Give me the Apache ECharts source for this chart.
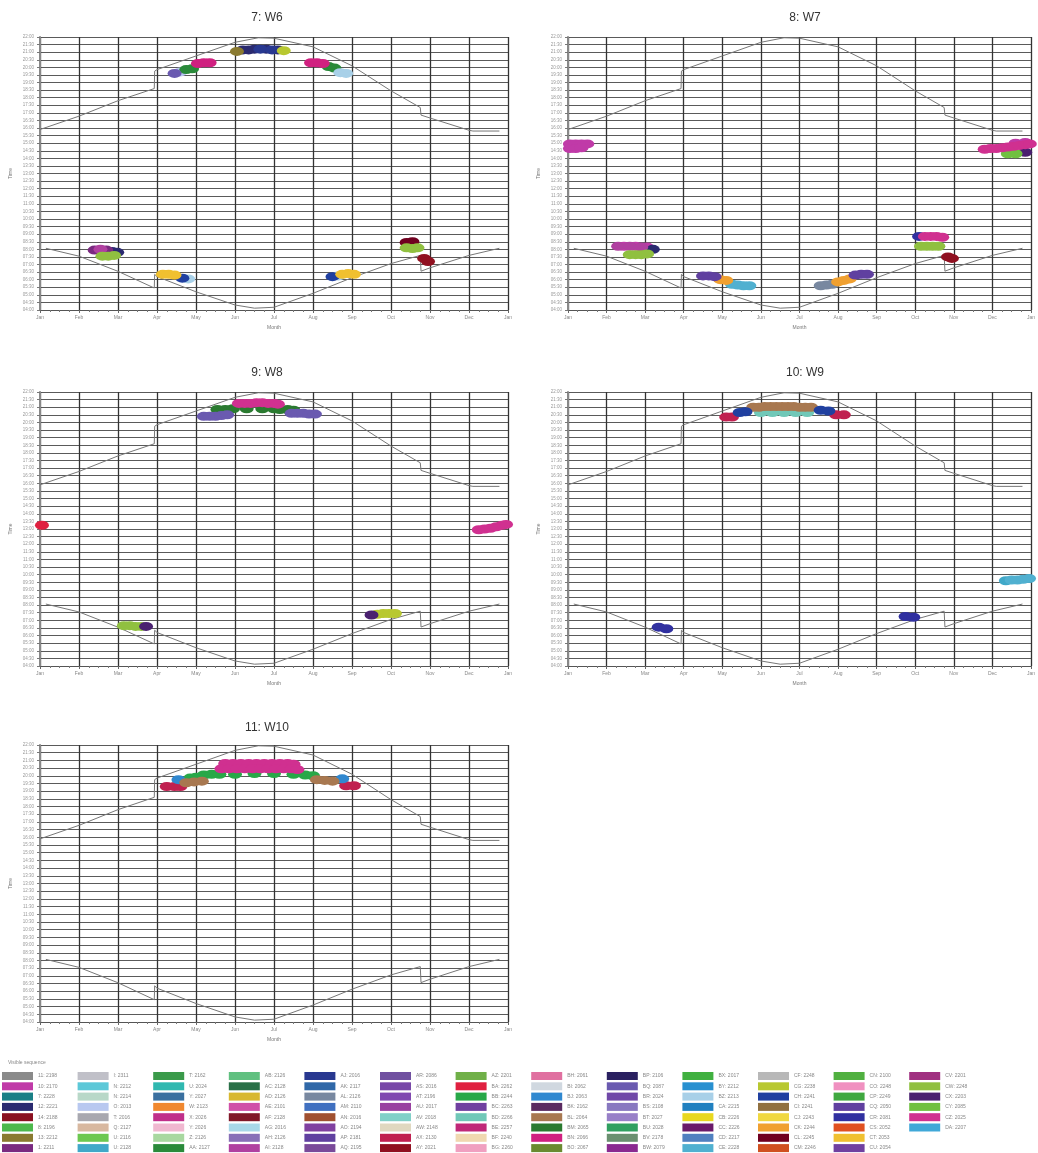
<!DOCTYPE html>
<html>
<head>
<meta charset="utf-8">
<script src="https://cdn.jsdelivr.net/npm/echarts@6/dist/echarts.min.js"></script>
<style>
  html, body { margin: 0; padding: 0; background: #fff; }
  #main { width: 1038px; height: 1153px; }
</style>
</head>
<body>
<div id="main"></div>
<script>
  const panelTitles = ['7: W6', '8: W7', '9: W8', '10: W9', '11: W10'];
  const monthLabels = ['Jan', 'Feb', 'Mar', 'Apr', 'May', 'Jun', 'Jul', 'Aug', 'Sep', 'Oct', 'Nov', 'Dec', 'Jan'];

  // sunset / sunrise, [month, hour]
  const sunset = [[0, 15.9], [1, 16.78], [2, 17.8], [2.93, 18.6], [2.94, 19.75], [3, 19.85], [4, 20.75],
    [5, 21.65], [5.6, 21.95], [6, 21.92], [7, 21.35], [8, 20.1], [9, 18.45], [9.75, 17.35], [9.77, 16.85],
    [10, 16.66], [11, 15.85], [11.1, 15.8], [11.78, 15.8]];
  const sunrise = [[0.15, 8.07], [1, 7.55], [2, 6.55], [2.93, 5.45], [2.94, 6.35], [3, 6.2], [4, 5.2],
    [5, 4.33], [5.5, 4.12], [6, 4.18], [7, 5.1], [8, 6.13], [9, 7.06], [9.75, 7.6], [9.77, 6.56],
    [10, 6.78], [11, 7.6], [11.78, 8.07]];

  const seqNames = [
    '11: 2198', '10: 2170', '7: 2228', '12: 2221', '14: 2188', '8: 2196', '13: 2212', '1: 2211',
    'I: 2311', 'N: 2212', 'N: 2214', 'O: 2013', 'T: 2016', 'Q: 2127', 'U: 2116', 'U: 2128',
    'T: 2162', 'U: 2024', 'Y: 2027', 'W: 2123', 'X: 2026', 'Y: 2026', 'Z: 2126', 'AA: 2127',
    'AB: 2126', 'AC: 2128', 'AD: 2126', 'AE: 2101', 'AF: 2128', 'AG: 2016', 'AH: 2126', 'AI: 2128',
    'AJ: 2016', 'AK: 2117', 'AL: 2126', 'AM: 2110', 'AN: 2016', 'AO: 2194', 'AP: 2181', 'AQ: 2195',
    'AR: 2086', 'AS: 2016', 'AT: 2196', 'AU: 2017', 'AV: 2018', 'AW: 2148', 'AX: 2130', 'AY: 2021',
    'AZ: 2201', 'BA: 2262', 'BB: 2244', 'BC: 2263', 'BD: 2266', 'BE: 2257', 'BF: 2240', 'BG: 2260',
    'BH: 2061', 'BI: 2062', 'BJ: 2063', 'BK: 2162', 'BL: 2064', 'BM: 2065', 'BN: 2066', 'BO: 2067',
    'BP: 2106', 'BQ: 2087', 'BR: 2024', 'BS: 2108', 'BT: 2027', 'BU: 2028', 'BV: 2178', 'BW: 2079',
    'BX: 2017', 'BY: 2212', 'BZ: 2213', 'CA: 2215', 'CB: 2226', 'CC: 2226', 'CD: 2217', 'CE: 2228',
    'CF: 2248', 'CG: 2238', 'CH: 2241', 'CI: 2241', 'CJ: 2243', 'CK: 2244', 'CL: 2245', 'CM: 2246',
    'CN: 2100', 'CO: 2248', 'CP: 2249', 'CQ: 2050', 'CR: 2081', 'CS: 2052', 'CT: 2053', 'CU: 2054',
    'CV: 2201', 'CW: 2248', 'CX: 2203', 'CY: 2085', 'CZ: 2025', 'DA: 2207'
  ];
  const seqColors = [
    '#8a8a8a', '#c03aa8', '#1a7f86', '#2a2a70', '#8a1020', '#4cb84c', '#8a7a30', '#7a2a80',
    '#c0c0c8', '#5cc8d8', '#b8d8c8', '#b8c8f0', '#a8a8b0', '#d8b8a0', '#6cc850', '#40a8c8',
    '#3a9a4a', '#30b8b0', '#3a70a0', '#f08830', '#c0308a', '#f0b8d0', '#a8d8a0', '#2a8a3a',
    '#60c080', '#2a7048', '#d8b830', '#d050a8', '#801828', '#a8d8e8', '#8870b8', '#b040a0',
    '#283890', '#3068a8', '#7888a0', '#4070c0', '#a05030', '#8040a0', '#6040a0', '#7a4a9a',
    '#7050a0', '#7848a8', '#8048b0', '#9840a0', '#80d0c8', '#e0d8c0', '#c02050', '#901020',
    '#70b048', '#e02040', '#28a848', '#7040a0', '#70c8b8', '#c02878', '#f0d8b0', '#f0a0c0',
    '#e070a0', '#d0d8e0', '#3088d0', '#5a2a60', '#a87850', '#2a7a30', '#d02080', '#6a8a30',
    '#2a2060', '#6a5ab0', '#7048a8', '#8878c0', '#9880c8', '#30a060', '#6a9070', '#8a2a90',
    '#40b040', '#2890d0', '#a8d0e8', '#2080c0', '#e8d820', '#6a1a6a', '#5080c0', '#50b0d0',
    '#b8b8b8', '#b8c830', '#2040a0', '#907040', '#f0d840', '#f0a030', '#700020', '#d05020',
    '#50b040', '#f090c0', '#40a840', '#6040a0', '#3030a0', '#e05020', '#f0c030', '#7040a0',
    '#a03080', '#90c040', '#4a2070', '#70c040', '#d03090', '#40a8d8'
  ];

  // observations per panel: [month, hour, sequence index]
  const pointsW6 = [
    [5.05, 21.05, 6], [5.2, 21.15, 3], [5.35, 21.15, 3], [5.5, 21.2, 3], [5.65, 21.2, 32], [5.8, 21.2, 3],
    [5.95, 21.15, 32], [6.1, 21.15, 3], [6.25, 21.1, 81],
    [3.45, 19.6, 65], [3.6, 19.7, 11], [3.75, 19.85, 23], [3.9, 19.9, 23], [4.05, 20.25, 62], [4.2, 20.3, 62],
    [4.35, 20.3, 62],
    [6.95, 20.3, 62], [7.1, 20.3, 62], [7.25, 20.25, 62], [7.4, 20.05, 23], [7.55, 19.95, 23], [7.7, 19.65, 74],
    [7.85, 19.6, 74],
    [1.4, 7.95, 7], [1.55, 8.0, 31], [1.7, 7.95, 7], [1.85, 7.85, 3], [1.98, 7.8, 3],
    [1.6, 7.55, 97], [1.75, 7.55, 97], [1.9, 7.6, 97],
    [3.15, 6.35, 94], [3.3, 6.35, 94], [3.45, 6.3, 94], [3.65, 6.1, 82], [3.8, 6.05, 74],
    [7.5, 6.2, 82], [7.65, 6.25, 74], [7.75, 6.35, 94], [7.9, 6.4, 94], [8.05, 6.35, 94],
    [9.4, 8.45, 86], [9.55, 8.5, 86], [9.4, 8.1, 97], [9.55, 8.05, 97], [9.68, 8.1, 97],
    [9.85, 7.4, 47], [9.95, 7.2, 47]
  ];
  const pointsW7 = [
    [0.05, 14.95, 1], [0.2, 14.95, 1], [0.35, 14.95, 1], [0.5, 14.95, 1], [0.05, 14.65, 1], [0.2, 14.65, 1],
    [0.35, 14.7, 1],
    [11.4, 14.3, 99], [11.6, 14.3, 99], [11.85, 14.4, 98],
    [10.8, 14.6, 100], [10.95, 14.65, 100], [11.1, 14.65, 100], [11.25, 14.7, 100], [11.4, 14.75, 100],
    [11.55, 14.8, 100], [11.7, 14.85, 100], [11.85, 14.9, 100], [11.97, 14.95, 100], [11.6, 15.0, 1],
    [11.85, 15.05, 1],
    [1.3, 8.2, 31], [1.45, 8.2, 1], [1.6, 8.2, 31], [1.75, 8.2, 1], [1.9, 8.15, 31], [2.05, 8.15, 1],
    [2.2, 8.0, 3], [1.6, 7.65, 97], [1.75, 7.65, 97], [1.9, 7.65, 97], [2.05, 7.7, 97],
    [3.5, 6.25, 91], [3.65, 6.25, 91], [3.8, 6.2, 91], [3.95, 6.0, 85], [4.1, 5.95, 85], [4.25, 5.7, 79],
    [4.4, 5.65, 79], [4.55, 5.6, 79], [4.7, 5.6, 79],
    [6.55, 5.6, 34], [6.7, 5.65, 34], [6.85, 5.7, 34], [7.0, 5.85, 85], [7.15, 5.95, 85], [7.3, 6.05, 85],
    [7.45, 6.3, 91], [7.6, 6.35, 91], [7.75, 6.35, 91],
    [9.15, 8.2, 97], [9.3, 8.2, 97], [9.45, 8.2, 97], [9.6, 8.2, 97],
    [9.1, 8.85, 92], [9.25, 8.85, 100], [9.4, 8.85, 100], [9.55, 8.85, 100], [9.7, 8.8, 100],
    [9.85, 7.5, 47], [9.95, 7.4, 47]
  ];
  const pointsW8 = [
    [4.55, 20.85, 61], [4.75, 20.85, 61], [4.95, 20.9, 61], [5.3, 20.9, 61], [5.7, 20.9, 61], [6.0, 20.9, 61],
    [6.15, 20.85, 61], [6.35, 20.85, 61], [6.5, 20.8, 61],
    [4.2, 20.4, 65], [4.35, 20.4, 65], [4.5, 20.4, 65], [4.65, 20.45, 65], [4.8, 20.5, 65],
    [6.45, 20.6, 65], [6.6, 20.6, 65], [6.75, 20.6, 65], [6.9, 20.55, 65], [7.05, 20.55, 65],
    [5.1, 21.25, 100], [5.25, 21.25, 100], [5.4, 21.25, 100], [5.55, 21.3, 100], [5.7, 21.3, 100],
    [5.85, 21.25, 100], [6.0, 21.25, 100], [6.1, 21.2, 100],
    [0.05, 13.25, 49],
    [11.25, 12.95, 100], [11.4, 13.0, 100], [11.55, 13.05, 100], [11.7, 13.15, 100], [11.85, 13.25, 100],
    [11.95, 13.3, 100],
    [2.15, 6.65, 97], [2.3, 6.65, 97], [2.45, 6.6, 97], [2.6, 6.6, 97], [2.72, 6.6, 98],
    [8.5, 7.35, 98], [8.65, 7.4, 81], [8.8, 7.45, 81], [8.95, 7.45, 81], [9.1, 7.45, 81]
  ];
  const pointsW9 = [
    [4.1, 20.35, 46], [4.25, 20.35, 46], [4.45, 20.65, 82], [4.6, 20.7, 82],
    [5.0, 20.65, 52], [5.3, 20.65, 52], [5.6, 20.65, 52], [5.9, 20.65, 52], [6.2, 20.65, 52],
    [4.8, 21.0, 60], [4.95, 21.0, 60], [5.1, 21.05, 60], [5.25, 21.05, 60], [5.4, 21.05, 60], [5.55, 21.05, 60],
    [5.7, 21.05, 60], [5.85, 21.05, 60], [6.0, 21.0, 60], [6.15, 21.0, 60], [6.3, 21.0, 60],
    [6.55, 20.8, 82], [6.75, 20.75, 82], [6.95, 20.5, 46], [7.15, 20.5, 46],
    [11.35, 9.6, 15], [11.5, 9.65, 79], [11.65, 9.65, 79], [11.8, 9.7, 79], [11.95, 9.75, 79],
    [2.35, 6.55, 92], [2.55, 6.45, 92],
    [8.75, 7.25, 92], [8.95, 7.2, 92]
  ];
  const pointsW10 = [
    [3.25, 19.3, 46], [3.45, 19.3, 46], [3.6, 19.3, 46], [3.55, 19.75, 58],
    [3.75, 19.55, 60], [3.95, 19.6, 60], [4.15, 19.65, 60],
    [3.85, 19.85, 50], [4.0, 19.9, 50], [4.2, 20.05, 50], [4.4, 20.1, 50], [4.6, 20.1, 50], [5.0, 20.1, 50],
    [5.5, 20.15, 50], [6.0, 20.15, 50], [6.5, 20.1, 50], [6.8, 20.05, 50], [7.0, 20.0, 50],
    [7.1, 19.75, 60], [7.3, 19.7, 60], [7.5, 19.65, 60], [7.75, 19.8, 58],
    [7.85, 19.35, 46], [8.05, 19.35, 46],
    [4.75, 20.8, 100], [4.95, 20.8, 100], [5.15, 20.8, 100], [5.35, 20.8, 100], [5.55, 20.8, 100],
    [5.75, 20.8, 100], [5.95, 20.8, 100], [6.15, 20.8, 100], [6.35, 20.8, 100], [6.5, 20.75, 100],
    [4.65, 20.45, 100], [4.85, 20.45, 100], [5.05, 20.45, 100], [5.25, 20.45, 100], [5.45, 20.45, 100],
    [5.65, 20.45, 100], [5.85, 20.45, 100], [6.05, 20.45, 100], [6.25, 20.45, 100], [6.45, 20.45, 100],
    [6.6, 20.4, 100]
  ];
  const panelPoints = [pointsW6, pointsW7, pointsW8, pointsW9, pointsW10];

  // layout of the five panels
  const grids = [
    { left: 40, top: 37, width: 468, height: 273 },
    { left: 568, top: 37, width: 468, height: 273 },
    { left: 40, top: 392, width: 468, height: 274 },
    { left: 568, top: 392, width: 468, height: 274 },
    { left: 40, top: 745, width: 468, height: 277 }
  ];
  const titleCenters = [[262, 7], [800, 7], [262, 362], [800, 362], [262, 717]];

  function hhmm(v) {
    const h = Math.floor(v);
    const m = Math.round((v - h) * 60);
    return (h < 10 ? '0' : '') + h + ':' + (m < 10 ? '0' : '') + m;
  }

  const font = 'Liberation Sans, Arial, sans-serif';
  const chart = echarts.init(document.getElementById('main'));

  const xAxes = grids.map((g, i) => ({
    type: 'value', gridIndex: i, min: 0, max: 12, interval: 1,
    name: 'Month', nameLocation: 'middle', nameGap: 15,
    nameTextStyle: { fontSize: 5, color: '#777', fontFamily: font },
    axisLine: { lineStyle: { color: '#555', width: 1.2 } },
    axisTick: { length: 3, lineStyle: { color: '#666' } },
    minorTick: { show: true, splitNumber: 4, length: 2, lineStyle: { color: '#777' } },
    axisLabel: { fontSize: 5, color: '#888', margin: 5, fontFamily: font, formatter: v => monthLabels[v] },
    splitLine: { show: true, lineStyle: { color: '#333', width: 1.3 } }
  }));
  const yAxes = grids.map((g, i) => ({
    type: 'value', gridIndex: i, min: 4, max: 22, interval: 0.5,
    name: 'Time', nameLocation: 'middle', nameGap: 27, nameRotate: 90,
    nameTextStyle: { fontSize: 5, color: '#777', fontFamily: font },
    axisLine: { show: true, lineStyle: { color: '#888', width: 2 } },
    axisTick: { show: true, length: 3, lineStyle: { color: '#777' } },
    axisLabel: { fontSize: 4.5, color: '#999', margin: 6, fontFamily: font, formatter: hhmm },
    splitLine: { show: true, lineStyle: { color: '#5a5a5a', width: 1.1 } }
  }));

  const series = [];
  grids.forEach((g, i) => {
    [sunset, sunrise].forEach(curve => {
      series.push({
        type: 'line', xAxisIndex: i, yAxisIndex: i, data: curve, showSymbol: false, silent: true,
        lineStyle: { color: '#777', width: 1 }, z: 3
      });
    });
  });
  seqNames.forEach((name, s) => {
    panelPoints.forEach((pts, p) => {
      const data = pts.filter(d => d[2] === s).map(d => [d[0], d[1]]);
      if (data.length === 0 && p > 0) return;
      series.push({
        type: 'scatter', name: name, xAxisIndex: p, yAxisIndex: p, data: data,
        symbol: 'circle', symbolSize: [14, 9], itemStyle: { color: seqColors[s], opacity: 1 }, z: 4
      });
    });
  });

  const titles = panelTitles.map((t, i) => ({
    text: t, left: titleCenters[i][0], top: titleCenters[i][1], textAlign: 'center',
    textStyle: { fontSize: 12, fontWeight: 'normal', color: '#333', fontFamily: font }
  }));
  titles.push({
    text: 'Visible sequence', left: 3, top: 1055,
    textStyle: { fontSize: 5, fontWeight: 'normal', color: '#888', fontFamily: font }
  });

  // one legend block per column of eight entries
  const legends = [];
  for (let k = 0; k * 8 < seqNames.length; k++) {
    legends.push({
      orient: 'vertical', left: 2 + 75.6 * k, top: 1072, padding: 0, icon: 'rect',
      itemWidth: 31, itemHeight: 8, itemGap: 2.3, selectedMode: false,
      data: seqNames.slice(k * 8, k * 8 + 8),
      textStyle: { fontSize: 5, color: '#888', fontFamily: font }
    });
  }

  chart.setOption({
    animation: false,
    backgroundColor: '#fff',
    title: titles,
    legend: legends,
    grid: grids,
    xAxis: xAxes,
    yAxis: yAxes,
    series: series
  });
</script>
</body>
</html>
